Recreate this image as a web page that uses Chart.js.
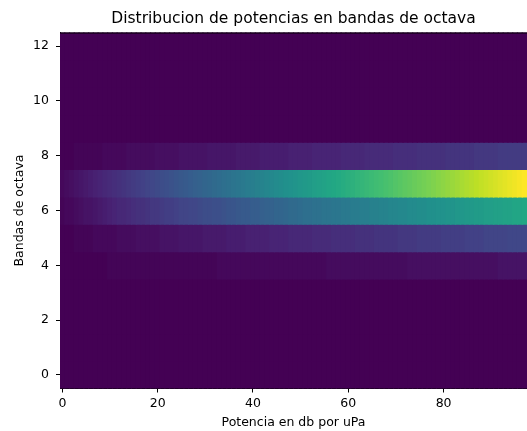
<!DOCTYPE html>
<html>
<head>
<meta charset="utf-8">
<script src="https://cdn.jsdelivr.net/npm/chart.js@4.4.0/dist/chart.umd.min.js"></script>
<style>
html, body { margin: 0; padding: 0; background: #fff; }
#grafico { display: block; }
</style>
</head>
<body>
<canvas id="grafico" width="527" height="431"></canvas>
<script>
// Columnas del eje x (potencia en dB) y bandas de octava (filas)
const potencias = [0,1,2,3,4,5,6,7,8,9,10,11,12,13,14,15,16,17,18,19,20,21,22,23,24,25,26,27,28,29,30,31,32,33,34,35,36,37,38,39,40,41,42,43,44,45,46,47,48,49,50,51,52,53,54,55,56,57,58,59,60,61,62,63,64,65,66,67,68,69,70,71,72,73,74,75,76,77,78,79,80,81,82,83,84,85,86,87,88,89,90,91,92,93,94,95,96,97];
const bandas = [0,1,2,3,4,5,6,7,8,9,10,11,12];

// Valores, una lista por banda
const banda0 = [0,0,0,0,0,0,0,0,0,0,0,0,0,0,0,0,0,0,0,0,0,0,0,0,0,0,0,0,0,0,0,0,0,0,0,0,0,0,0,0,0,0,0,0,0,0,0,0,0,0,0,0,0,0,0,0,0,0,0,0,0,0,0,0,0,0,0,0,0,0,0,0,0,0,0,0,0,0,0,0,0,0,0,0,0,0,0,0,0,0,0,0,0,0,0,0,0,0];
const banda1 = [0,0,0,0,0,0,0,0,0,0,0,0,0,0,0,0,0,0,0,0,0,0,0,0,0,0,0,0,0,0,0,0,0,0,0,0,0,0,0,0,0,0,0,0,0,0,0,0,0,0,0,0,0,0,0,0,0,0,0,0,0,0,0,0,0,0,0,0,0,0,0,0,0,0,0,0,0,0,0,0,0,0,0,0,0,0,0,0,0,0,0,0,0,0,0,0,0,0];
const banda2 = [0,0,0,0,0,0,0,0,0,0,0,0,0,0,0,0,0,0,0,0,0,0,0,0,0,0,0,0,0,0,0,0,0,0,0,0,0,0,0,0,0,0,0,0,0,0,0,0,0,0,0,0,0,0,0,0,0,0,0,0,0,0,0,0,0,0,0,0,0,0,0,0,0,0,0,0,0,0,0,0,0,0,0,0,0,0,0,0,0,0,0,0,0,0,0,0,0,0];
const banda3 = [0,0,0,0,0,0,0,0,0,0,0,0,0,0,0,0,0,0,0,0,0,0,0,0,0,0,0,0,0,0,0,0,0,0,0,0,0,0,0,0,0,0,0,0,0,0,0,0,0,0,0,0,0,0,0,0,0,0,0,0,0,0,0,0,0,0,0,0,0,0,0,0,0,0,0,0,0,0,0,0,0,0,0,0,0,0,0,0,0,0,0,0,0,0,0,0,0,0];
const banda4 = [0,0,0,0,0,0,0,0,0,0,1,1,1,1,1,1,1,1,1,1,1,1,1,1,1,1,1,1,1,1,1,1,1,2,2,2,2,2,2,2,2,2,2,2,2,2,2,2,2,2,2,2,2,2,2,2,3,3,3,3,3,3,3,3,3,3,3,3,3,3,3,3,3,4,4,4,4,4,4,4,4,4,4,4,4,4,4,4,4,4,4,4,5,5,5,5,5,5];
const banda5 = [0,0,0,1,1,1,1,2,2,2,2,2,3,3,3,3,4,4,4,4,4,5,5,5,5,6,6,6,6,6,7,7,7,7,7,8,8,8,8,9,9,9,9,9,10,10,10,10,11,11,11,11,11,12,12,12,12,13,13,13,13,13,14,14,14,14,15,15,15,15,15,16,16,16,16,17,17,17,17,17,18,18,18,18,18,19,19,19,19,20,20,20,20,20,21,21,21,21];
const banda6 = [1,2,2,3,4,5,5,6,7,8,9,10,11,11,12,13,14,14,15,16,16,17,18,18,19,20,20,21,21,22,23,23,24,24,25,26,26,27,28,28,29,29,30,31,31,32,32,33,34,34,35,36,36,37,37,38,38,39,39,40,40,41,41,42,42,43,43,44,44,45,45,46,46,47,47,48,48,49,49,50,50,51,51,52,52,53,53,54,54,55,55,56,56,57,57,58,58,59];
const banda7 = [2,3,4,5,6,7,8,9,10,11,12,13,14,15,16,17,18,19,20,21,22,23,24,25,26,27,28,29,30,31,32,33,34,35,36,37,38,39,40,41,42,43,44,45,46,47,48,49,50,51,52,53,54,55,56,57,58,59,60,61,62,63,64,65,66,67,68,69,70,71,72,73,74,75,76,77,78,79,80,81,82,83,84,85,86,87,88,89,90,91,92,93,94,95,96,97,98,99];
const banda8 = [0,0,0,1,1,1,1,1,1,2,2,2,2,2,3,3,3,3,3,3,4,4,4,4,4,5,5,5,5,5,5,6,6,6,6,6,6,7,7,7,7,7,8,8,8,8,8,8,9,9,9,9,9,10,10,10,10,10,10,11,11,11,11,11,12,12,12,12,12,12,13,13,13,13,13,14,14,14,14,14,14,15,15,15,15,15,15,16,16,16,16,16,17,17,17,17,17,17];
const banda9 = [0,0,0,0,0,0,0,0,0,0,0,0,0,0,0,0,0,0,0,0,0,0,0,0,0,0,0,0,0,0,0,0,0,0,0,0,0,0,0,0,0,0,0,0,0,0,0,0,0,0,0,0,0,0,0,0,0,0,0,0,0,0,0,0,0,0,0,0,0,0,0,0,0,0,0,0,0,0,0,0,0,0,0,0,0,0,0,0,0,0,0,0,0,0,0,0,0,0];
const banda10 = [0,0,0,0,0,0,0,0,0,0,0,0,0,0,0,0,0,0,0,0,0,0,0,0,0,0,0,0,0,0,0,0,0,0,0,0,0,0,0,0,0,0,0,0,0,0,0,0,0,0,0,0,0,0,0,0,0,0,0,0,0,0,0,0,0,0,0,0,0,0,0,0,0,0,0,0,0,0,0,0,0,0,0,0,0,0,0,0,0,0,0,0,0,0,0,0,0,0];
const banda11 = [0,0,0,0,0,0,0,0,0,0,0,0,0,0,0,0,0,0,0,0,0,0,0,0,0,0,0,0,0,0,0,0,0,0,0,0,0,0,0,0,0,0,0,0,0,0,0,0,0,0,0,0,0,0,0,0,0,0,0,0,0,0,0,0,0,0,0,0,0,0,0,0,0,0,0,0,0,0,0,0,0,0,0,0,0,0,0,0,0,0,0,0,0,0,0,0,0,0];
const banda12 = [0,0,0,0,0,0,0,0,0,0,0,0,0,0,0,0,0,0,0,0,0,0,0,0,0,0,0,0,0,0,0,0,0,0,0,0,0,0,0,0,0,0,0,0,0,0,0,0,0,0,0,0,0,0,0,0,0,0,0,0,0,0,0,0,0,0,0,0,0,0,0,0,0,0,0,0,0,0,0,0,0,0,0,0,0,0,0,0,0,0,0,0,0,0,0,0,0,0];

const ticksX = [0, 20, 40, 60, 80];
const ticksY = [0, 2, 4, 6, 8, 10, 12];

const valores = [banda0, banda1, banda2, banda3, banda4, banda5, banda6, banda7, banda8, banda9, banda10, banda11, banda12];

// Mapa de color viridis
const paradas = ['#440154','#482475','#414487','#355f8d','#2a788e','#21918c','#22a884','#44bf70','#7ad151','#bddf26','#fde725'];
function hexRgb(h) {
    return [parseInt(h.slice(1,3),16), parseInt(h.slice(3,5),16), parseInt(h.slice(5,7),16)];
}
function corViridis(t) {
    t = Math.max(0, Math.min(1, t));
    const p = t * (paradas.length - 1);
    const i = Math.min(Math.floor(p), paradas.length - 2);
    const f = p - i;
    const a = hexRgb(paradas[i]);
    const b = hexRgb(paradas[i + 1]);
    const c = a.map((v, k) => Math.round(v + (b[k] - v) * f));
    return 'rgb(' + c.join(',') + ')';
}

window.addEventListener("load", () => {
    gerarMapaCalor();
});

function gerarMapaCalor() {
    let minimo = Infinity, maximo = -Infinity;
    valores.forEach(fila => fila.forEach(v => { minimo = Math.min(minimo, v); maximo = Math.max(maximo, v); }));

    const celdas = [];
    bandas.forEach((b, r) => {
        valores[r].forEach((v, i) => {
            celdas.push({ x: potencias[i], y: [b - 0.5, b + 0.5], v: v });
        });
    });

    const fuente = { family: 'DejaVu Sans', size: 12.5 };
    const bordeSuperior = {
        id: 'bordeSuperior',
        afterDraw(chart) {
            const a = chart.chartArea;
            const ctx = chart.ctx;
            ctx.save();
            ctx.strokeStyle = '#000';
            ctx.lineWidth = 1;
            ctx.beginPath();
            ctx.moveTo(a.left, a.top + 0.5);
            ctx.lineTo(a.right, a.top + 0.5);
            ctx.stroke();
            ctx.restore();
        }
    };

    new Chart(document.getElementById('grafico'), {
        type: 'bar',
        data: {
            datasets: [{
                data: celdas,
                backgroundColor: ctx => corViridis((ctx.raw.v - minimo) / (maximo - minimo)),
                borderWidth: 0,
                inflateAmount: 0.6,
                barPercentage: 1,
                categoryPercentage: 1
            }]
        },
        options: {
            responsive: false,
            animation: false,
            events: [],
            layout: { padding: 0 },
            plugins: {
                legend: { display: false },
                tooltip: { enabled: false },
                title: {
                    display: true,
                    fullSize: false,
                    text: 'Distribucion de potencias en bandas de octava',
                    color: '#000',
                    font: { family: 'DejaVu Sans', size: 15.5, weight: 'normal' },
                    padding: { top: 9.2, bottom: 4.7 }
                }
            },
            scales: {
                x: {
                    type: 'linear',
                    min: -0.5,
                    max: 97.5,
                    offset: false,
                    afterBuildTicks: s => { s.ticks = ticksX.map(v => ({ value: v })); },
                    afterFit: s => { s.height = 42.5; },
                    grid: { offset: false, drawOnChartArea: false, tickLength: 4, color: '#000' },
                    border: { display: true, color: '#000', width: 1 },
                    ticks: { padding: 3.5, color: '#000', font: fuente, maxRotation: 0, autoSkip: false },
                    title: { display: true, text: 'Potencia en db por uPa', color: '#000', font: fuente, padding: { top: 0, bottom: 1 } }
                },
                y: {
                    type: 'linear',
                    min: -0.5,
                    max: 12.5,
                    afterBuildTicks: s => { s.ticks = ticksY.map(v => ({ value: v })); },
                    afterFit: s => { s.width = 60; },
                    grid: { drawOnChartArea: false, tickLength: 4, color: '#000' },
                    border: { display: true, color: '#000', width: 1 },
                    ticks: { padding: 7, color: '#000', font: fuente, autoSkip: false },
                    title: { display: true, text: 'Bandas de octava', color: '#000', font: fuente, padding: { top: 12.5, bottom: 0 } }
                }
            }
        },
        plugins: [bordeSuperior]
    });
}
</script>
</body>
</html>
